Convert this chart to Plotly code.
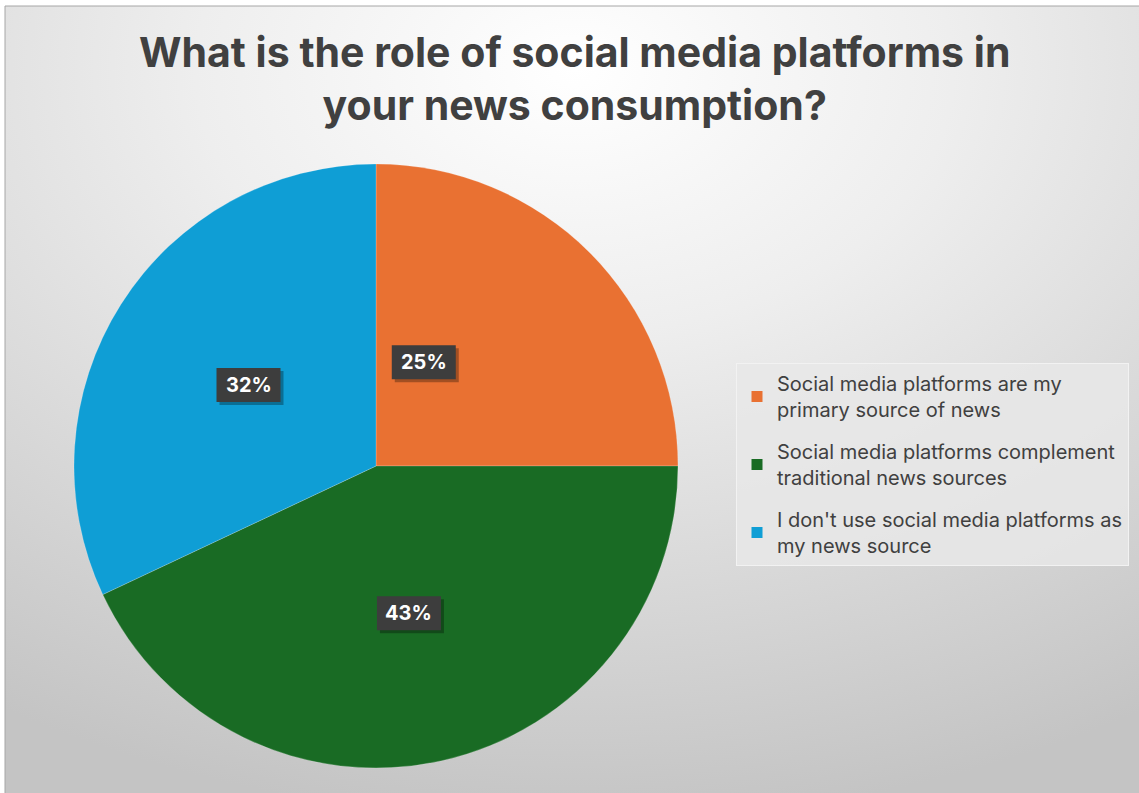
import math
import urllib.parse
import plotly.graph_objects as go

# Survey answers and their shares (%)
answers = [
    "Social media platforms are my<br>primary source of news",
    "Social media platforms complement<br>traditional news sources",
    "I don't use social media platforms as<br>my news source",
]
shares = [25, 43, 32]
slice_colors = ["#E97132", "#196B24", "#0F9ED5"]

title_text = "<b>What is the role of social media platforms in<br>your news consumption?</b>"

# Canvas and pie geometry (pixels)
W, H = 1139, 793
CX, CY, R = 376, 466, 302
FONT = "Inter"


def px_x(x):
    return x / W


def px_y(y):
    return 1 - y / H


fig = go.Figure()
fig.add_trace(go.Pie(
    labels=answers,
    values=shares,
    sort=False,
    direction="clockwise",
    rotation=0,
    marker=dict(colors=slice_colors, line=dict(width=0.5, color="rgba(255,255,255,0.4)")),
    textinfo="none",
    hoverinfo="label+percent",
    showlegend=False,
    domain=dict(x=[px_x(CX - R), px_x(CX + R)], y=[px_y(CY + R), px_y(CY - R)]),
))

# Legend entries, one group per answer so the entries can be spaced apart
for name, color in zip(answers, slice_colors):
    fig.add_trace(go.Scatter(
        x=[None], y=[None], mode="markers", name=name, legendgroup=name,
        marker=dict(symbol="square", size=11, color=color),
        hoverinfo="skip",
    ))

# Percentage labels placed at half radius along each slice's mid angle
label_nudge = [(-59, -3), (0, 0), (0, 0)]
total = sum(shares)
cum = 0
annotations = []
shapes = []
BOX_W, BOX_H = 64, 34
for share, (nx, ny) in zip(shares, label_nudge):
    mid = (cum + share / 2) / total * 2 * math.pi
    cum += share
    lx = CX + 0.5 * R * math.sin(mid) + nx
    ly = CY - 0.5 * R * math.cos(mid) - ny
    ax, ay = px_x(lx), px_y(ly)
    # drop shadow, then the dark label box
    for dx, dy, fill in [(3, -3, "rgba(0,0,0,0.30)"), (0, 0, "#3d3d3d")]:
        shapes.append(dict(
            type="rect", xref="paper", yref="paper",
            xsizemode="pixel", ysizemode="pixel", xanchor=ax, yanchor=ay,
            x0=-BOX_W / 2 + dx, x1=BOX_W / 2 + dx, y0=-BOX_H / 2 + dy, y1=BOX_H / 2 + dy,
            fillcolor=fill, line=dict(width=0), layer="above",
        ))
    annotations.append(dict(
        x=ax, y=ay, xref="paper", yref="paper", xanchor="center", yanchor="middle",
        showarrow=False, text=f"<b>{round(share / total * 100)}%</b>",
        font=dict(family=FONT, size=20, color="#ffffff"),
    ))

# Chart title
annotations.append(dict(
    x=0.504, y=px_y(25), xref="paper", yref="paper", xanchor="center", yanchor="top",
    showarrow=False, text=title_text, align="center",
    font=dict(family=FONT, size=41, color="#404040"),
))

# Radial gradient backdrop for the chart area
svg = (
    f'<svg xmlns="http://www.w3.org/2000/svg" width="{W}" height="{H}">'
    '<defs><radialGradient id="g" cx="0.5" cy="0.08" r="0.95">'
    '<stop offset="0" stop-color="#ffffff"/>'
    '<stop offset="0.35" stop-color="#eeeeee"/>'
    '<stop offset="1" stop-color="#c4c4c4"/>'
    '</radialGradient></defs>'
    f'<rect x="0" y="0" width="{W}" height="{H}" fill="url(#g)"/></svg>'
)
bg_src = "data:image/svg+xml;charset=utf-8," + urllib.parse.quote(svg)

shapes.append(dict(type="rect", xref="paper", yref="paper", x0=px_x(5), y0=px_y(6),
                   x1=1.01, y1=-0.01, line=dict(color="#a6a6a6", width=1)))

fig.update_layout(
    width=W, height=H,
    margin=dict(l=0, r=0, t=0, b=0),
    paper_bgcolor="#ffffff",
    plot_bgcolor="rgba(0,0,0,0)",
    xaxis=dict(visible=False),
    yaxis=dict(visible=False),
    legend=dict(
        x=px_x(736), y=px_y(363), xanchor="left", yanchor="top",
        bgcolor="rgba(232,232,232,0.85)", bordercolor="#f2f2f2", borderwidth=1,
        font=dict(family=FONT, size=20, color="#404040"),
        tracegroupgap=13,
        traceorder="grouped",
    ),
    annotations=annotations,
    images=[dict(source=bg_src, xref="paper", yref="paper", x=px_x(5), y=px_y(6),
                 sizex=1.0, sizey=1.0, sizing="stretch", xanchor="left", yanchor="top",
                 layer="below")],
    shapes=shapes,
)

fig.write_html("out.html")
